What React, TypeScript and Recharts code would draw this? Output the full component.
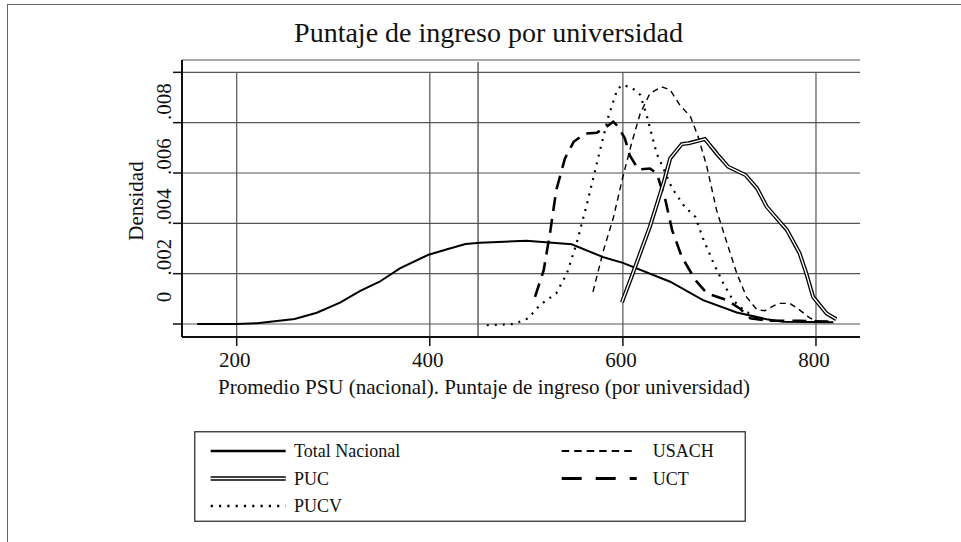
import React from 'react';
import { LineChart, Line, XAxis, YAxis, CartesianGrid, ReferenceLine, Legend } from 'recharts';

// ---------- data ----------
const xTicks = [200, 400, 600, 800];
const xTickLabels = ['200', '400', '600', '800'];
const yTicks = [0, 0.002, 0.004, 0.006, 0.008, 0.01];
const yTickLabels = ['0', '.002', '.004', '.006', '.008', ''];
const minScoreLine = 450;

const totalX = [159, 200, 221, 260, 283, 307, 328, 348, 369, 398, 418, 437, 452, 500, 547, 580, 600, 649, 683, 718, 749, 766, 818];
const totalY = [0, 0, 0.00003, 0.0002, 0.00045, 0.00085, 0.00132, 0.00168, 0.00221, 0.00274, 0.00297, 0.00318, 0.00323, 0.00331, 0.00317, 0.00265, 0.00243, 0.00168, 0.00095, 0.00046, 0.00019, 0.00009, 0.00007];

const pucX = [599, 609, 628, 642, 649, 661, 668, 685, 697, 709, 727, 739, 749, 770, 783, 790, 797, 811, 821];
const pucY = [0.00086, 0.00188, 0.00387, 0.00559, 0.00658, 0.00715, 0.00718, 0.00735, 0.00678, 0.00625, 0.00592, 0.00539, 0.00466, 0.00373, 0.00281, 0.00201, 0.00108, 0.00042, 0.00019];

const pucvX = [459, 487, 502, 514, 531, 542, 552, 563, 573, 585, 594, 599, 609, 618, 625, 635, 651, 664, 675, 683, 694, 704, 714, 725, 739, 759];
const pucvY = [-0.00005, 0, 0.00023, 0.00075, 0.00122, 0.00201, 0.0032, 0.0048, 0.00638, 0.00824, 0.0093, 0.0095, 0.0094, 0.0091, 0.00824, 0.00678, 0.00539, 0.00466, 0.00426, 0.0034, 0.00241, 0.00162, 0.00095, 0.00056, 0.00023, 0.00009];

const usachX = [569, 580, 590, 600, 609, 618, 628, 640, 649, 659, 670, 678, 687, 697, 708, 718, 728, 739, 747, 761, 773, 783, 794, 801];
const usachY = [0.00128, 0.00294, 0.0042, 0.00585, 0.00718, 0.00837, 0.00916, 0.00943, 0.0093, 0.0087, 0.00824, 0.00744, 0.00625, 0.00453, 0.0032, 0.00201, 0.00108, 0.00056, 0.00053, 0.00082, 0.00082, 0.00056, 0.00023, 0.00013];

const uctX = [509, 518, 525, 531, 540, 549, 561, 573, 583, 590, 595, 602, 607, 616, 628, 635, 644, 651, 661, 675, 687, 708, 721, 732, 749, 783, 818];
const uctY = [0.00108, 0.00214, 0.00373, 0.00532, 0.00658, 0.00724, 0.00757, 0.0076, 0.00784, 0.00804, 0.00784, 0.00738, 0.00671, 0.00614, 0.00618, 0.00599, 0.00493, 0.00373, 0.00267, 0.00175, 0.00122, 0.00095, 0.00062, 0.00023, 0.00013, 0.00013, 0.00009];

const titleText = 'Puntaje de ingreso por universidad';
const xTitleText = 'Promedio PSU (nacional). Puntaje de ingreso (por universidad)';
const yTitleText = 'Densidad';

// ---------- layout / style ----------
const W = 961;
const H = 542;
const PLOT = { left: 182, right: 860, top: 60, bottom: 337 };
const Y_AXIS_W = 60;
const X_AXIS_H = 30;
const X_DOMAIN: [number, number] = [143.35, 845.6];
const Y_DOMAIN: [number, number] = [-0.000516, 0.01049];
const FONT = "'Liberation Serif', 'Times New Roman', serif";
const INK = '#111';
const GRID = '#555';
const Y_LABEL_SHIFT = [-27, -16.5, -16.5, -16.5, -21, 0];

const toPoints = (xs: number[], ys: number[]) => xs.map((x, i) => ({ x, y: ys[i] }));

type Style = { width: number; dash?: string; double?: boolean; legendWidth: number; legendDash?: string };
const series: { key: string; name: string; data: { x: number; y: number }[]; style: Style; col: number; row: number }[] = [
  { key: 'total', name: 'Total Nacional', data: toPoints(totalX, totalY), style: { width: 2, legendWidth: 2.6 }, col: 0, row: 0 },
  { key: 'puc', name: 'PUC', data: toPoints(pucX, pucY), style: { width: 4, double: true, legendWidth: 4.4 }, col: 0, row: 1 },
  { key: 'pucv', name: 'PUCV', data: toPoints(pucvX, pucvY), style: { width: 2.2, dash: '2 6', legendWidth: 2.4, legendDash: '2.2 6.1' }, col: 0, row: 2 },
  { key: 'usach', name: 'USACH', data: toPoints(usachX, usachY), style: { width: 1.4, dash: '6 4.5', legendWidth: 2, legendDash: '7.5 5' }, col: 1, row: 0 },
  { key: 'uct', name: 'UCT', data: toPoints(uctX, uctY), style: { width: 2.6, dash: '14 8', legendWidth: 3, legendDash: '20 14' }, col: 1, row: 1 },
];

const YTick = (props: any) => {
  const { x, y, payload } = props;
  const i = yTicks.findIndex((t) => Math.abs(t - payload.value) < 1e-9);
  const label = i >= 0 ? yTickLabels[i] : '';
  if (!label) return <g />;
  const bx = PLOT.left - 11;
  const cy = y + Y_LABEL_SHIFT[i];
  return (
    <text x={bx} y={cy} transform={`rotate(-90 ${bx} ${cy})`} textAnchor="middle" fontFamily={FONT} fontSize={21} fill={INK}>
      {label}
    </text>
  );
};

const XTick = (props: any) => {
  const { x, payload } = props;
  const i = xTicks.indexOf(payload.value);
  return (
    <text x={x - 2} y={366.5} textAnchor="middle" fontFamily={FONT} fontSize={21} fill={INK}>
      {i >= 0 ? xTickLabels[i] : ''}
    </text>
  );
};

const LEG = { left: 194, top: 430.5, width: 552, height: 91 };
const LEG_COL_X = [16.7, 367.7];
const LEG_SAMPLE_W = 75;
const LEG_TEXT_GAP = [8.3, 16];
const LEG_ROW_Y = [20, 47.5, 75];

const LegendBox = () => (
  <svg width={LEG.width} height={LEG.height} style={{ display: 'block' }}>
    <rect x={0.75} y={0.75} width={LEG.width - 1.5} height={LEG.height - 1.5} fill="#fff" stroke="#333" strokeWidth={1.3} />
    {series.map((s) => {
      const x1 = LEG_COL_X[s.col];
      const x2 = x1 + LEG_SAMPLE_W;
      const y = LEG_ROW_Y[s.row];
      return (
        <g key={s.key}>
          <line x1={x1} x2={x2} y1={y} y2={y} stroke="#000" strokeWidth={s.style.legendWidth} strokeDasharray={s.style.legendDash} />
          {s.style.double && <line x1={x1} x2={x2} y1={y} y2={y} stroke="#fff" strokeWidth={1.6} />}
          <text x={x2 + LEG_TEXT_GAP[s.col]} y={y + 6} fontFamily={FONT} fontSize={18} fill={INK}>
            {s.name}
          </text>
        </g>
      );
    })}
  </svg>
);

export default function App() {
  return (
    <div style={{ position: 'absolute', left: 0, top: 0, width: W, height: H, background: '#fff' }}>
      <div
        style={{
          position: 'absolute',
          left: 6.5,
          top: 4,
          width: W - 6.5,
          height: H - 4,
          borderTop: '1.5px solid #666',
          borderLeft: '1.5px solid #666',
          boxSizing: 'border-box',
        }}
      />
      <LineChart
        width={W}
        height={H}
        margin={{ top: PLOT.top, right: W - PLOT.right, bottom: H - PLOT.bottom - X_AXIS_H, left: PLOT.left - Y_AXIS_W }}
        style={{ position: 'absolute', left: 0, top: 0 }}
      >
        <CartesianGrid horizontal vertical={false} stroke={GRID} strokeWidth={1.2} />
        <XAxis
          type="number"
          dataKey="x"
          domain={X_DOMAIN}
          ticks={xTicks}
          allowDataOverflow
          height={X_AXIS_H}
          tickSize={9}
          tick={<XTick />}
          axisLine={{ stroke: INK, strokeWidth: 2 }}
          tickLine={{ stroke: INK, strokeWidth: 1.5 }}
        />
        <YAxis
          type="number"
          dataKey="y"
          domain={Y_DOMAIN}
          ticks={yTicks}
          allowDataOverflow
          width={Y_AXIS_W}
          tickSize={9}
          tick={<YTick />}
          axisLine={{ stroke: INK, strokeWidth: 2 }}
          tickLine={{ stroke: INK, strokeWidth: 1.5 }}
        />
        {xTicks.map((t) => (
          <ReferenceLine
            key={`v${t}`}
            segment={[{ x: t, y: Y_DOMAIN[0] }, { x: t, y: yTicks[yTicks.length - 1] }]}
            stroke={GRID}
            strokeWidth={1.2}
            ifOverflow="visible"
          />
        ))}
        <ReferenceLine
          segment={[{ x: minScoreLine, y: Y_DOMAIN[0] }, { x: minScoreLine, y: 0.01041 }]}
          stroke={GRID}
          strokeWidth={1.4}
          ifOverflow="visible"
        />
        {series.map((s) => (
          <Line
            key={s.key}
            data={s.data}
            dataKey="y"
            name={s.name}
            type="linear"
            stroke="#000"
            strokeWidth={s.style.width}
            strokeDasharray={s.style.dash}
            dot={false}
            activeDot={false}
            isAnimationActive={false}
            legendType="none"
          />
        ))}
        {series
          .filter((s) => s.style.double)
          .map((s) => (
            <Line
              key={`${s.key}-inner`}
              data={s.data}
              dataKey="y"
              type="linear"
              stroke="#fff"
              strokeWidth={1.4}
              dot={false}
              activeDot={false}
              isAnimationActive={false}
              legendType="none"
            />
          ))}
        <Legend
          layout="horizontal"
          verticalAlign="middle"
          align="center"
          content={() => <LegendBox />}
          wrapperStyle={{ left: LEG.left, top: LEG.top, width: LEG.width, height: LEG.height }}
        />
        <text x={488.5} y={42} textAnchor="middle" fontFamily={FONT} fontSize={28} fill={INK}>
          {titleText}
        </text>
        <text x={484} y={394} textAnchor="middle" fontFamily={FONT} fontSize={21} fill={INK}>
          {xTitleText}
        </text>
        <text x={143} y={201} transform="rotate(-90 143 201)" textAnchor="middle" fontFamily={FONT} fontSize={21} fill={INK}>
          {yTitleText}
        </text>
      </LineChart>
    </div>
  );
}
